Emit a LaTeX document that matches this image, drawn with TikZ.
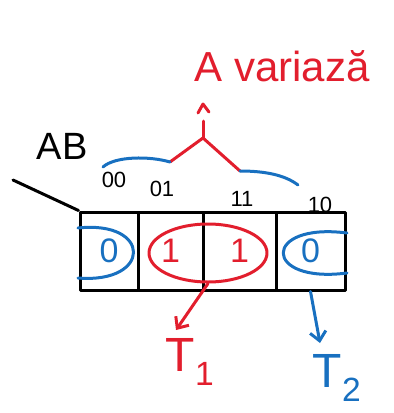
\documentclass[tikz,border=0pt]{standalone}
\usepackage{fontspec}
\setmainfont{Liberation Sans}
\usetikzlibrary{arrows.meta,shapes.geometric}
\definecolor{hred}{RGB}{226,30,45}
\definecolor{hblue}{RGB}{24,112,192}
\begin{document}
\begin{tikzpicture}[x=1pt,y=-1pt,
  pen/.style={line width=3pt,line cap=round,line join=round},
  cellbox/.style={draw,pen,minimum height=78,inner sep=0pt,font=\fontsize{34}{34}\selectfont},
  lab/.style={font=\fontsize{22}{22}\selectfont,inner sep=1pt},
  hd/.style={-{Straight Barb[length=9pt,width=16pt,line width=3pt]}}]
\useasboundingbox (0,0) rectangle (394,413);
% title
\node[text=hred,font=\fontsize{42}{42}\selectfont] (title) at (282,66) {A variază};
% table cells
\node[cellbox,minimum width=58,text=hblue] (c1) at (109,251) {0};
\node[cellbox,minimum width=65,text=hred] (c2) at (170.5,251) {1};
\node[cellbox,minimum width=73,text=hred] (c3) at (239.5,251) {1};
\node[cellbox,minimum width=69,text=hblue] (c4) at (310.5,251) {0};
% column labels
\node[lab] (l00) at (114,180) {00};
\node[lab] (l01) at (162,189) {01};
\node[lab] (l11) at (242,199) {11};
\node[lab] (l10) at (320,205) {10};
% AB
\node[font=\fontsize{38}{38}\selectfont] (ab) at (62,146) {AB};
\coordinate (diag) at (13,180);
\draw[pen] (diag) -- (c1.north west);
% red group
\node[ellipse,draw=hred,pen,minimum width=118,minimum height=58] (g1) at (208,253) {};
% blue wrap-around groups
\draw[pen,hblue] (78,228) .. controls (152,220) and (152,284) .. (78,278);
\draw[pen,hblue] (347,233) .. controls (262,222) and (262,284) .. (347,273);
% brace
\coordinate (apex) at (203,138);
\coordinate (bl) at (170,162);
\coordinate (br) at (240,171);
\draw[pen,hred] (bl) -- (apex) -- (br);
\draw[pen,hred] (apex) -- (203,121);
\draw[pen,hred] (198,113) -- (203,104) -- (209,112);
\draw[pen,hblue] (103,167) .. controls (115,156) and (150,156) .. (bl);
\draw[pen,hblue] (br) .. controls (265,171) and (285,175) .. (298,185);
% outputs
\node[text=hred,font=\fontsize{48}{48}\selectfont] (t1) at (190,362) {T\textsubscript{1}};
\node[text=hblue,font=\fontsize{48}{48}\selectfont] (t2) at (337,378) {T\textsubscript{2}};
\coordinate (a1) at (176,330);
\coordinate (a2) at (320,343);
\draw[pen,hred,hd] (g1.south) -- (a1);
\draw[pen,hblue,hd] (c4.south) -- (a2);
\end{tikzpicture}
\end{document}
